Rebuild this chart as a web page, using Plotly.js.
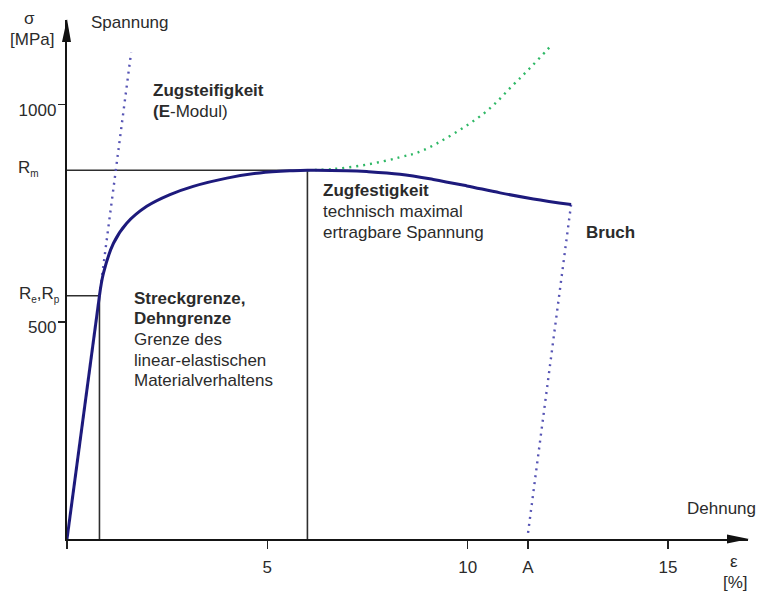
<!DOCTYPE html>
<html><head><meta charset="utf-8">
<script src="https://cdn.plot.ly/plotly-3.0.1.min.js"></script>
<style>html,body{margin:0;padding:0;background:#fff}#chart{width:758px;height:592px}</style>
</head><body><div id="chart"></div>
<script>
// ---- data (strain in %, stress in MPa) ----
const elasticStrain = [0, 0.81];
const elasticStress = [0, 560];
const plasticStrain = [0.81, 0.91, 1.16, 1.49, 1.99, 2.57, 3.15, 3.99, 4.81, 5.64, 6.0, 6.98, 7.48, 8.31, 9.14, 9.98, 10.81, 11.64, 12.58];
const plasticStress = [560, 612, 681, 727, 766, 793, 812, 831, 843, 848, 849, 848, 846, 840, 828, 813, 797, 783, 770];
const trueStrain = [6.0, 6.65, 7.48, 8.31, 8.89, 10.39, 11.14, 11.55, 11.97, 12.08];
const trueStress = [849, 852, 862, 879, 895, 979, 1046, 1084, 1125, 1136];
const modulusStrain = [0.81, 1.6];
const modulusStress = [560, 1120];
const unloadStrain = [12.58, 11.5];
const unloadStress = [770, 10];
const yieldStrainVal = [0.81];
const yieldStressVal = [560];
const utsStrainVal = [6.0];
const utsStressVal = [849];
const xTickVals = [0, 5, 10, 11.5, 15];
const xTickText = ['', '5', '10', 'A', '15'];
const yTickVals = [500, 1000];
const yTickText = ['500', '1000'];

// ---- layout geometry ----
const L = 67, T = 20, W = 681, H = 519;
const FONT = 'Liberation Sans, Arial, sans-serif';
const TXT = '#2b2b2b';
function ann(text, px, py, xanchor, extra) {
  return Object.assign({
    xref: 'paper', yref: 'paper', x: (px - L) / W, y: (T + H - py) / H,
    xanchor: xanchor, yanchor: 'middle', text: text, showarrow: false,
    font: {family: FONT, size: 17, color: TXT}
  }, extra || {});
}
function block(lines, px, py0, gap) {
  return lines.map((t, i) => ann(t, px, py0 + i * gap, 'left'));
}
const SUB = s => '<sub><span style="font-size:10px">' + s + '</span></sub>';

const blackLine = {color: '#2e2e2e', width: 1.6};
const traces = [
  {x: [0, yieldStrainVal[0]], y: [yieldStressVal[0], yieldStressVal[0]], mode: 'lines', line: blackLine},
  {x: [yieldStrainVal[0], yieldStrainVal[0]], y: [0, yieldStressVal[0]], mode: 'lines', line: blackLine},
  {x: [0, utsStrainVal[0]], y: [utsStressVal[0], utsStressVal[0]], mode: 'lines', line: blackLine},
  {x: [utsStrainVal[0], utsStrainVal[0]], y: [0, utsStressVal[0]], mode: 'lines', line: blackLine},
  {x: trueStrain, y: trueStress, mode: 'lines', line: {color: '#2fb866', width: 2.4, dash: '2px,5px', shape: 'spline'}},
  {x: modulusStrain, y: modulusStress, mode: 'lines', line: {color: '#5654b4', width: 2.4, dash: '2px,5px'}},
  {x: unloadStrain, y: unloadStress, mode: 'lines', line: {color: '#5654b4', width: 2.4, dash: '2px,5px'}},
  {x: elasticStrain, y: elasticStress, mode: 'lines', line: {color: '#1d1a7c', width: 3}},
  {x: plasticStrain, y: plasticStress, mode: 'lines', line: {color: '#1d1a7c', width: 3, shape: 'spline', smoothing: 1}}
];

const annotations = [].concat(
  [ann('σ', 29, 29, 'center', {yanchor: 'bottom', borderpad: 0}),
   ann('[MPa]', 32, 29, 'center', {yanchor: 'top', borderpad: 0}),
   ann('Spannung', 89, 22, 'left'),
   ann('R' + SUB('m'), 16, 169, 'left'),
   ann('R' + SUB('e') + ',R' + SUB('p'), 17, 295, 'left'),
   ann('Dehnung', 758, 508, 'right'),
   ann('ε', 734, 572, 'center', {yanchor: 'bottom', borderpad: 0}),
   ann('[%]', 735, 572, 'center', {yanchor: 'top', borderpad: 0}),
   ann('<b>Bruch</b>', 584, 233, 'left')],
  block(['<b>Zugsteifigkeit</b>', '<b>(E</b>-Modul)'], 151, 90, 22),
  block(['<b>Zugfestigkeit</b>', 'technisch maximal', 'ertragbare Spannung'], 321, 190, 21),
  block(['<b>Streckgrenze,</b>', '<b>Dehngrenze</b>', 'Grenze des', 'linear-elastischen', 'Materialverhaltens'], 132, 298, 20.7)
);

const xArrowBase = (727 - L) / W, yArrowBase = (T + H - 42) / H;
const shapes = [
  {type: 'path', xref: 'paper', yref: 'paper', fillcolor: '#111', line: {width: 0},
   path: `M ${xArrowBase},${-4.5 / H} L ${(749 - L) / W},0 L ${xArrowBase},${4.5 / H} Z`},
  {type: 'path', xref: 'paper', yref: 'paper', fillcolor: '#111', line: {width: 0},
   path: `M ${-5 / W},${yArrowBase} L ${0 / W},${(T + H - 19) / H} L ${4 / W},${yArrowBase} Z`}
];

const layout = {
  width: 758, height: 592,
  margin: {l: L, r: 758 - L - W, t: T, b: 592 - T - H, pad: 0},
  paper_bgcolor: '#fff', plot_bgcolor: '#fff',
  showlegend: false,
  font: {family: FONT, size: 17, color: TXT},
  xaxis: {range: [0, W / 40.07], showgrid: false, zeroline: false, showline: true, linecolor: '#151515', linewidth: 2.2,
          ticks: 'outside', ticklen: 8, tickwidth: 1.4, tickcolor: '#222', tickvals: xTickVals, ticktext: xTickText,
          tickfont: {family: FONT, size: 17, color: TXT}, ticklabelstandoff: 3, fixedrange: true},
  yaxis: {range: [0, H / 0.4343], showgrid: false, zeroline: false, showline: true, linecolor: '#151515', linewidth: 2.2,
          ticks: 'outside', ticklen: 7, tickwidth: 1.4, tickcolor: '#222', tickvals: yTickVals, ticktext: yTickText,
          tickfont: {family: FONT, size: 17, color: TXT}, ticklabelshift: 5, ticklabelstandoff: -2, fixedrange: true},
  annotations: annotations,
  shapes: shapes
};
Plotly.newPlot('chart', traces, layout, {staticPlot: true, displayModeBar: false});
</script></body></html>
